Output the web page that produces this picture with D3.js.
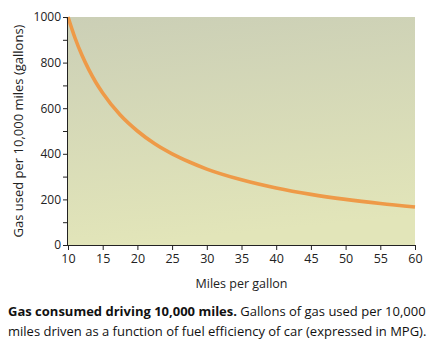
<!DOCTYPE html>
<html><head><meta charset="utf-8">
<script src="https://cdn.jsdelivr.net/npm/d3@7"></script>
<style>
html,body{margin:0;padding:0;background:#fff;}
svg{display:block;}
</style></head>
<body>
<svg id="chart" width="432" height="347"></svg>
<script>
// Data
const mpg =     [10,   11,  12,  13,  14,  15,  17.5, 20,  22.5, 25,  27.5, 30,  35,  40,  45,  50,  55,  60];
const gallons = [1000, 909, 833, 769, 714, 667, 571,  500, 444,  400, 364,  333, 286, 250, 222, 200, 182, 167];
const xTicks = [10,15,20,25,30,35,40,45,50,55,60];
const yTicks = [0,100,200,300,400,500,600,700,800,900,1000];
const yLabelTicks = [0,200,400,600,800,1000];
const xTitle = "Miles per gallon";
const yTitle = "Gas used per 10,000 miles (gallons)";
const captionBold = "Gas consumed driving 10,000 miles.";
const captionRest1 = " Gallons of gas used per 10,000";
const captionLine2 = "miles driven as a function of fuel efficiency of car (expressed in MPG).";

const svg = d3.select("#chart");
const font = "'Open Sans', 'DejaVu Sans', sans-serif";
const L = 68, R = 415, T = 17, B = 245;
const x = d3.scaleLinear().domain([10,60]).range([L,R]);
const y = d3.scaleLinear().domain([0,1000]).range([B,T]);

const defs = svg.append("defs");
const g = defs.append("linearGradient").attr("id","bg").attr("x1","0").attr("y1","0").attr("x2","0.15").attr("y2","1");
g.append("stop").attr("offset","0").attr("stop-color","#cbcfb6");
g.append("stop").attr("offset","1").attr("stop-color","#e2e5b9");

svg.append("rect").attr("x",L).attr("y",T).attr("width",R-L).attr("height",B-T).attr("fill","url(#bg)");

const line = d3.line().x((d,i)=>x(mpg[i])).y(d=>y(d)).curve(d3.curveMonotoneX);
svg.append("path").datum(gallons).attr("d",line).attr("fill","none")
  .attr("stroke","#ee9a48").attr("stroke-width",3.6).attr("stroke-linecap","butt");

// axes
const xAxis = d3.axisBottom(x).tickValues(xTicks).tickSize(5).tickPadding(4).tickFormat(d3.format("d"));
const gx = svg.append("g").attr("transform",`translate(0,${B})`).call(xAxis);
gx.select(".domain").attr("d",`M${L},0.5H${R}`).attr("stroke","#222");
gx.selectAll(".tick line").attr("stroke","#222");
gx.selectAll("text").attr("font-family",font).attr("font-size",12.5).attr("fill","#222");

const yAxis = d3.axisLeft(y).tickValues(yTicks).tickSize(5).tickPadding(2)
  .tickFormat(d=>yLabelTicks.includes(d)?d3.format("d")(d):"");
const gy = svg.append("g").attr("transform",`translate(${L},0)`).call(yAxis);
gy.select(".domain").attr("d",`M-0.5,${T}V${B}`).attr("stroke","#222");
gy.selectAll(".tick line").attr("stroke","#222");
gy.selectAll("text").attr("font-family",font).attr("font-size",12).attr("fill","#222");

svg.append("text").attr("x",(L+R)/2).attr("y",288).attr("text-anchor","middle")
  .attr("font-family",font).attr("font-size",12.5).attr("fill","#222").text(xTitle);
svg.append("text").attr("transform",`translate(23,${(T+B)/2}) rotate(-90)`).attr("text-anchor","middle")
  .attr("font-family",font).attr("font-size",13).attr("fill","#222").text(yTitle);

const c1 = svg.append("text").attr("x",8).attr("y",316).attr("font-family",font).attr("font-size",13).attr("fill","#111");
c1.append("tspan").attr("font-weight","bold").text(captionBold);
c1.append("tspan").text(captionRest1);
svg.append("text").attr("x",8).attr("y",336).attr("font-family",font).attr("font-size",13).attr("fill","#111").text(captionLine2);
</script>
</body></html>
